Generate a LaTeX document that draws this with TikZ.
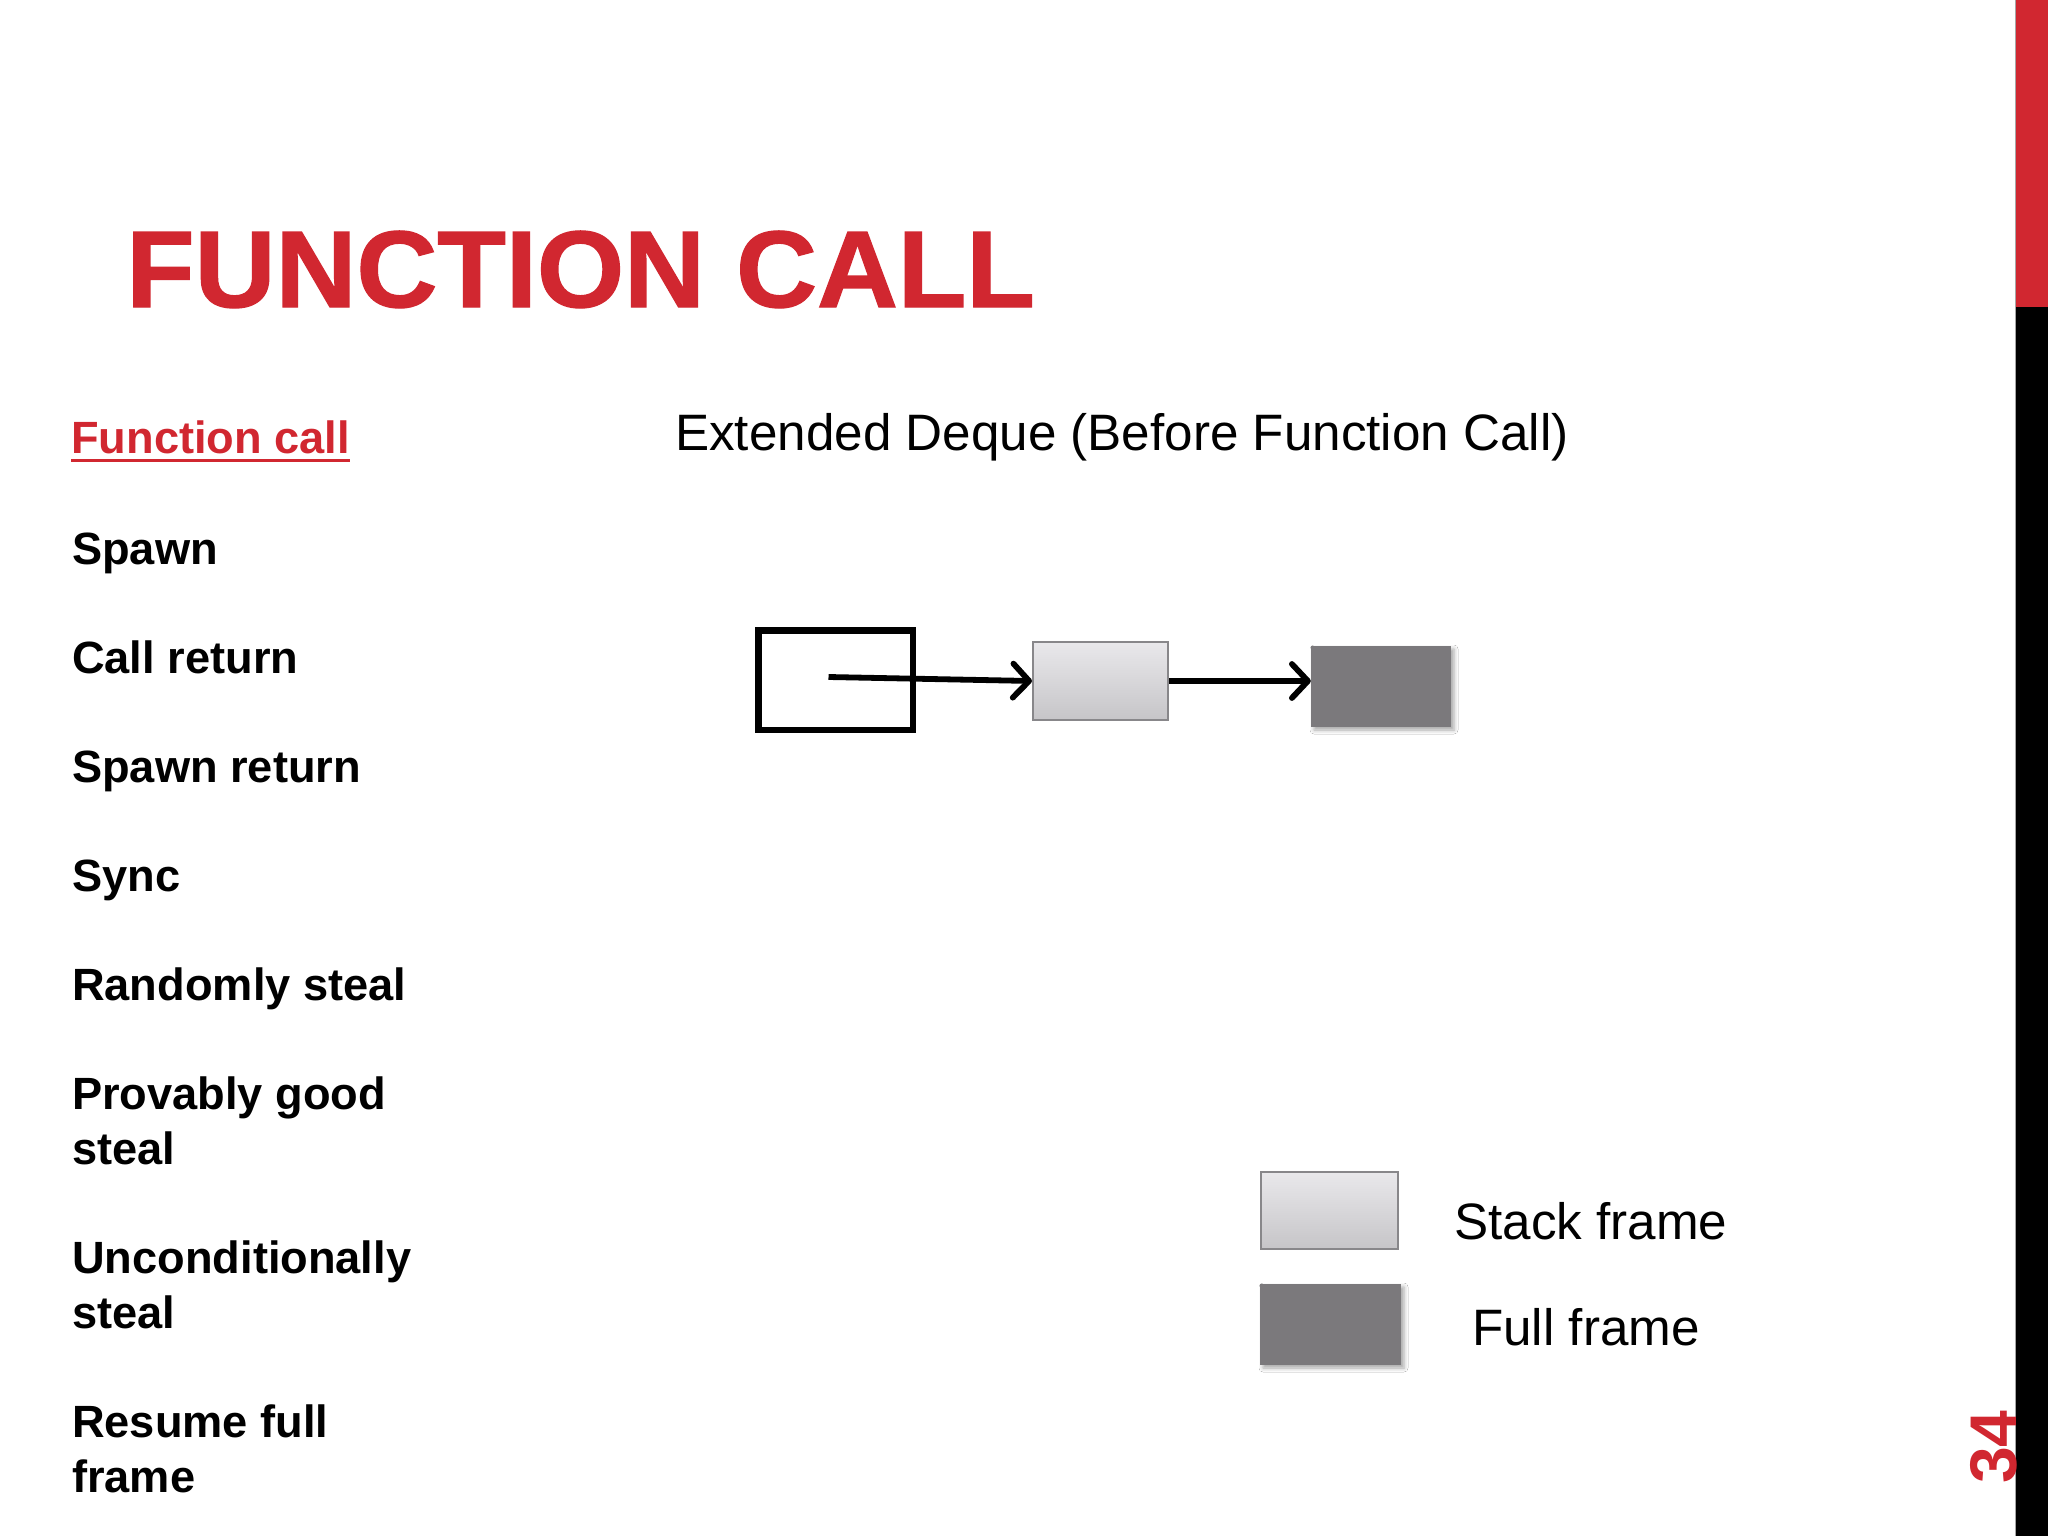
\documentclass[tikz,border=0pt]{standalone}
\usepackage{fontspec}
\setmainfont{Liberation Sans}
\usetikzlibrary{arrows.meta,shadows.blur}
\definecolor{slidered}{RGB}{209,39,48}
\definecolor{fullgray}{RGB}{123,121,124}
\definecolor{stacktop}{RGB}{233,232,235}
\definecolor{stackbot}{RGB}{198,197,200}
\definecolor{stackedge}{RGB}{136,135,138}
\begin{document}
\begin{tikzpicture}[x=1pt,y=-1pt,
  listitem/.style={anchor=base west, inner sep=0pt, font=\fontsize{45.2}{55}\selectfont\bfseries},
  bodytext/.style={anchor=base west, inner sep=0pt, font=\fontsize{51.2}{60}\selectfont},
  openbox/.style={draw=black, line width=6.5pt, minimum width=154.5pt, minimum height=99.5pt, inner sep=0pt},
  stackframe/.style={draw=stackedge, line width=2pt, top color=stacktop, bottom color=stackbot, inner sep=0pt},
  fullframe/.style={fill=fullgray, inner sep=0pt, blur shadow={shadow xshift=3pt, shadow yshift=-3pt, shadow blur radius=4pt, shadow opacity=35}},
  ptr/.style={line width=5.8pt, -{Straight Barb[length=16pt,width=34pt,line cap=round,line join=round]}}
]
\useasboundingbox (0,0) rectangle (2048,1536);
\fill[white] (0,0) rectangle (2048,1536);

% right bar
\fill[slidered] (2015,0) rectangle (2048,307);
\fill[black] (2015,307) rectangle (2048,1536);
\draw[gray!70, line width=1pt] (2015,0) -- (2015,1536);

% title
\node[anchor=base west, inner sep=0pt, xscale=1.028, text=slidered, font=\fontsize{109}{120}\selectfont\bfseries\addfontfeature{FakeBold=1.2}] (title) at (126,307) {FUNCTION CALL};

% left list
\node[listitem, text=slidered] (fc) at (71,453) {Function call};
\draw[slidered, line width=3pt] ([yshift=-7pt]fc.base west) -- ([yshift=-7pt]fc.base east);
\node[listitem] (spawn) at (72,564) {Spawn};
\node[listitem] (callret) at (72,673) {Call return};
\node[listitem] (spawnret) at (72,782) {Spawn return};
\node[listitem] (sync) at (72,891) {Sync};
\node[listitem] (rsteal) at (72,1000) {Randomly steal};
\node[listitem] (pgood1) at (72,1109) {Provably good};
\node[listitem] (pgood2) at (72,1164) {steal};
\node[listitem] (uncond1) at (72,1273) {Unconditionally};
\node[listitem] (uncond2) at (72,1328) {steal};
\node[listitem] (resume1) at (72,1437) {Resume full};
\node[listitem] (resume2) at (72,1492) {frame};

% diagram heading
\node[bodytext] (head) at (675,450) {Extended Deque (Before Function Call)};

% deque
\node[openbox] (a) at (835.5,680) {};
\node[stackframe, minimum width=135pt, minimum height=78pt] (s) at (1100.5,681) {};
\node[fullframe, minimum width=140pt, minimum height=81pt] (f) at (1381,686.5) {};
\draw[ptr] ([xshift=-7pt,yshift=3pt]a.center) -- (s.west);
\draw[ptr] (s.east) -- (s.east -| f.west);

% legend
\node[stackframe, minimum width=137pt, minimum height=77pt] (ls) at (1329.5,1210.5) {};
\node[fullframe, minimum width=141pt, minimum height=81pt] (lf) at (1330.5,1324.5) {};
\node[bodytext] (lst) at (1454,1239) {Stack frame};
\node[bodytext] (lft) at (1472,1345) {Full frame};

% page number
\node[rotate=90, anchor=base, inner sep=0pt, text=slidered, font=\fontsize{66}{70}\selectfont\bfseries] (pg) at (2016,1447) {34};
\end{tikzpicture}
\end{document}
